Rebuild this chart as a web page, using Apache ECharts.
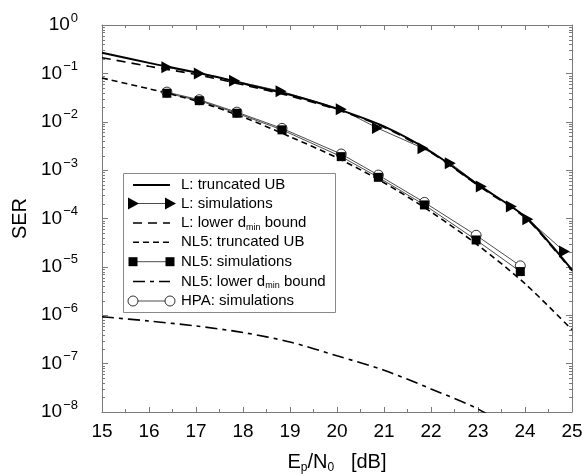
<!DOCTYPE html>
<html>
<head>
<meta charset="utf-8">
<script src="https://cdn.jsdelivr.net/npm/echarts@6/dist/echarts.min.js"></script>
<style>
html,body{margin:0;padding:0;background:#fff;}
#chart{width:587px;height:474px;}
</style>
</head>
<body>
<div id="chart"></div>
<script>
// ---- data ----
const xMin = 15, xMax = 25;
const yMin = 1e-8, yMax = 1;

const ubX      = [15, 16, 17, 18, 19, 20, 21, 22, 23, 24, 24.5, 25];
const lUB      = [0.268, 0.165, 0.105, 0.062, 0.036, 0.0185, 0.0080, 0.0024, 5.0e-4, 1.1e-4, 3.3e-5, 8.7e-6];
const lLower   = [0.211, 0.140, 0.095, 0.058, 0.034, 0.0178, 0.0077, 0.0023, 4.8e-4, 1.05e-4, 3.15e-5, 8.3e-6];

const nlX      = [15, 16, 17, 18, 19, 20, 21, 22, 23, 24, 25];
const nlUB     = [0.080, 0.048, 0.027, 0.0125, 4.9e-3, 1.8e-3, 5.5e-4, 1.37e-4, 2.8e-5, 4.5e-6, 5e-7];

const nlLowX   = [15, 16, 17, 18, 19, 20, 21, 22, 23, 24];
const nlLower  = [9.3e-7, 7.6e-7, 6.0e-7, 4.4e-7, 2.8e-7, 1.45e-7, 7.3e-8, 3.0e-8, 1.15e-8, 3e-9];

const lSimX    = [16.38, 17.07, 17.82, 18.81, 20.09, 20.86, 21.83, 22.41, 23.07, 23.71, 24.06, 24.84];
const lSim     = [0.134, 0.100, 0.070, 0.0427, 0.0181, 7.4e-3, 2.83e-3, 1.39e-3, 4.56e-4, 1.76e-4, 9.7e-5, 2.07e-5];

const simX     = [16.38, 17.07, 17.87, 18.83, 20.09, 20.88, 21.86, 22.96, 23.90];
const nlSim    = [0.0388, 0.0273, 0.0150, 6.8e-3, 1.9e-3, 7.1e-4, 1.91e-4, 3.6e-5, 8.0e-6];
const hpaSim   = [0.041, 0.0285, 0.0158, 7.3e-3, 2.15e-3, 7.9e-4, 2.15e-4, 4.5e-5, 1.05e-5];

const xTicks = [15, 16, 17, 18, 19, 20, 21, 22, 23, 24, 25];
const legendNames = ['L: truncated UB', 'L: simulations', 'L: lower d{s|min} bound',
  'NL5: truncated UB', 'NL5: simulations', 'NL5: lower d{s|min} bound', 'HPA: simulations'];

// minor ticks of the log axis (2..9 in each decade)
const minorLog = [];
for (let e = -8; e < 0; e++) for (let m = 2; m <= 9; m++) minorLog.push([m * Math.pow(10, e)]);

const zip = (xs, ys) => xs.map((x, i) => [x, ys[i]]);

// ---- chart ----
const chart = echarts.init(document.getElementById('chart'), null, {renderer: 'canvas'});
const FONT = '"Liberation Sans", Arial, Helvetica, sans-serif';
const AX = '#7a7a7a';

const lineBase = {type: 'line', xAxisIndex: 0, yAxisIndex: 0, animation: false, silent: true};

// legend drawn as graphic
const LX = 123, LY = 173, LW = 212, LH = 139;
const rowY = [185, 203.5, 223, 242.3, 261.7, 281.5, 301];
const l1 = 133, l2 = 170;
const legendEls = [{
  type: 'rect', shape: {x: LX + 0.5, y: LY + 0.5, width: LW, height: LH},
  style: {fill: '#fff', stroke: '#888', lineWidth: 1}, z: 100
}];
function hline(y, w, dash) {
  return {type: 'line', shape: {x1: l1, y1: y, x2: l2, y2: y},
    style: {stroke: '#000', lineWidth: w, lineDash: dash || null}, z: 101};
}
function tri(cx, cy) {
  return {type: 'polygon', shape: {points: [[cx - 5, cy - 6], [cx + 6, cy], [cx - 5, cy + 6]]},
    style: {fill: '#000'}, z: 102};
}
function sq(cx, cy) {
  return {type: 'rect', shape: {x: cx - 4.5, y: cy - 4.5, width: 9, height: 9}, style: {fill: '#000'}, z: 102};
}
function circ(cx, cy) {
  return {type: 'circle', shape: {cx: cx, cy: cy, r: 5}, style: {fill: '#fff', stroke: '#000', lineWidth: 0.8}, z: 102};
}
legendEls.push(hline(rowY[0], 2));
legendEls.push(hline(rowY[1], 0.7), tri(l1, rowY[1]), tri(l2, rowY[1]));
legendEls.push(hline(rowY[2], 1.6, [9, 6]));
legendEls.push(hline(rowY[3], 1.6, [6, 4]));
legendEls.push(hline(rowY[4], 0.7), sq(l1, rowY[4]), sq(l2, rowY[4]));
legendEls.push(hline(rowY[5], 1.6, [12, 5, 4, 5]));
legendEls.push(hline(rowY[6], 0.7), circ(l1, rowY[6]), circ(l2, rowY[6]));
legendNames.forEach((t, i) => {
  legendEls.push({
    type: 'text', x: 181, y: rowY[i], z: 103,
    style: {
      text: t, fill: '#000', font: '15px ' + FONT, fontSize: 15, fontFamily: FONT,
      verticalAlign: 'middle', align: 'left',
      rich: {s: {fontSize: 9, fontFamily: FONT, padding: [9, 0, 0, 0]}}
    }
  });
});

const option = {
  backgroundColor: '#fff',
  animation: false,
  grid: {left: 102, top: 25, right: 15, bottom: 62, containLabel: false, outerBoundsMode: 'none'},
  xAxis: [{
    type: 'value', min: xMin, max: xMax, interval: 1, position: 'bottom',
    name: 'E{s|p}/N{s|0}   [dB]', nameLocation: 'middle', nameGap: 38,
    nameTextStyle: {color: '#000', fontSize: 20, fontFamily: FONT,
      rich: {s: {fontSize: 12, fontFamily: FONT, padding: [12, 0, 0, 0]}}},
    axisLine: {show: true, onZero: false, lineStyle: {color: AX, width: 1}},
    axisTick: {show: true, inside: true, length: 5, lineStyle: {color: AX}},
    minorTick: {show: true, splitNumber: 2, length: 3, lineStyle: {color: AX}},
    splitLine: {show: false},
    axisLabel: {color: '#000', fontSize: 19, fontFamily: FONT, margin: 10,
      formatter: v => (xTicks.indexOf(v) >= 0 ? String(v) : '')}
  }, {
    type: 'value', min: xMin, max: xMax, interval: 1, position: 'top',
    axisLine: {show: true, onZero: false, lineStyle: {color: AX, width: 1}},
    axisTick: {show: true, inside: true, length: 5, lineStyle: {color: AX}},
    minorTick: {show: true, splitNumber: 2, length: 3, lineStyle: {color: AX}},
    splitLine: {show: false}, axisLabel: {show: false}
  }],
  yAxis: [{
    type: 'log', logBase: 10, min: yMin, max: yMax, splitNumber: 8, position: 'left',
    name: 'SER', nameLocation: 'middle', nameGap: 64,
    nameTextStyle: {color: '#000', fontSize: 20, fontFamily: FONT},
    axisLine: {show: true, onZero: false, lineStyle: {color: AX, width: 1}},
    axisTick: {show: true, inside: true, length: 6, lineStyle: {color: AX}},
    splitLine: {show: false},
    axisLabel: {
      margin: 24, color: '#000', fontFamily: FONT,
      formatter: v => {
        const e = Math.round(Math.log10(v));
        return '{b|10}{e|' + (e < 0 ? '\u2212' + (-e) : String(e)) + '}';
      },
      rich: {
        b: {fontSize: 19, fontFamily: FONT, color: '#000'},
        e: {fontSize: 13, fontFamily: FONT, color: '#000', padding: [0, 0, 14, 1]}
      }
    }
  }, {
    type: 'log', logBase: 10, min: yMin, max: yMax, splitNumber: 8, position: 'right',
    axisLine: {show: true, onZero: false, lineStyle: {color: AX, width: 1}},
    axisTick: {show: true, inside: true, length: 6, lineStyle: {color: AX}},
    splitLine: {show: false}, axisLabel: {show: false}
  }],
  graphic: legendEls,
  series: [
    {
      type: 'custom', xAxisIndex: 0, yAxisIndex: 0, silent: true, clip: false,
      data: minorLog,
      renderItem: (params, api) => {
        const v = api.value(0);
        const a = api.coord([xMin, v]);
        const b = api.coord([xMax, v]);
        return {type: 'group', children: [
          {type: 'line', shape: {x1: a[0], y1: Math.round(a[1]) + 0.5, x2: a[0] + 3, y2: Math.round(a[1]) + 0.5},
            style: {stroke: AX, lineWidth: 1}},
          {type: 'line', shape: {x1: b[0], y1: Math.round(b[1]) + 0.5, x2: b[0] - 3, y2: Math.round(b[1]) + 0.5},
            style: {stroke: AX, lineWidth: 1}}
        ]};
      }
    },
    Object.assign({}, lineBase, {
      name: 'L: lower dmin bound', data: zip(ubX, lLower), smooth: 0.3, showSymbol: false,
      lineStyle: {color: '#000', width: 1.6, type: [9, 6]}, z: 3
    }),
    Object.assign({}, lineBase, {
      name: 'L: truncated UB', data: zip(ubX, lUB), smooth: 0.3, showSymbol: false,
      lineStyle: {color: '#000', width: 2}, z: 4
    }),
    Object.assign({}, lineBase, {
      name: 'L: simulations', data: zip(lSimX, lSim), symbol: 'triangle', symbolSize: [12, 11],
      symbolRotate: -90, itemStyle: {color: '#000'},
      lineStyle: {color: '#000', width: 0.7}, z: 5
    }),
    Object.assign({}, lineBase, {
      name: 'NL5: truncated UB', data: zip(nlX, nlUB), smooth: 0.3, showSymbol: false,
      lineStyle: {color: '#000', width: 1.6, type: [6, 4]}, z: 3
    }),
    Object.assign({}, lineBase, {
      name: 'HPA: simulations', data: zip(simX, hpaSim), symbol: 'circle', symbolSize: 10,
      itemStyle: {color: '#fff', borderColor: '#000', borderWidth: 0.8},
      lineStyle: {color: '#000', width: 0.7}, z: 5
    }),
    Object.assign({}, lineBase, {
      name: 'NL5: simulations', data: zip(simX, nlSim), symbol: 'rect', symbolSize: 9,
      itemStyle: {color: '#000'},
      lineStyle: {color: '#000', width: 0.7}, z: 6
    }),
    Object.assign({}, lineBase, {
      name: 'NL5: lower dmin bound', data: zip(nlLowX, nlLower), smooth: 0.3, showSymbol: false,
      lineStyle: {color: '#000', width: 1.6, type: [12, 5, 4, 5]}, z: 3
    })
  ]
};
chart.setOption(option);
</script>
</body>
</html>
